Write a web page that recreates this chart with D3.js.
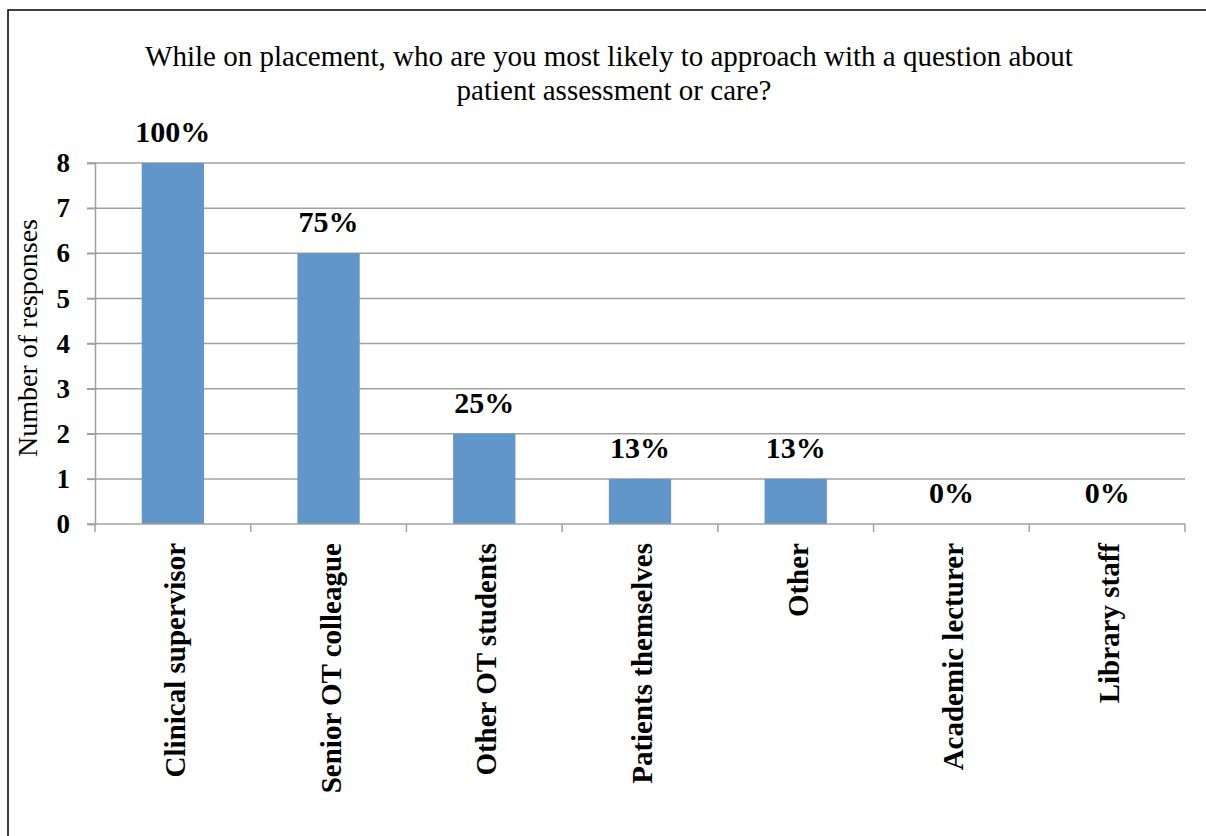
<!DOCTYPE html>
<head>
    <meta charset="utf-8">
    <script src="https://d3js.org/d3.v7.min.js"></script>
    <style>
        body { margin: 0; background: #fff; }
        text { font-family: "Liberation Serif", "Times New Roman", serif; }
    </style>
</head>
<body>
<svg width="1206" height="836"></svg>
<script>

    // data
    var categories = ["Clinical supervisor", "Senior OT colleague", "Other OT students",
        "Patients themselves", "Other", "Academic lecturer", "Library staff"];
    var counts = [8, 6, 2, 1, 1, 0, 0];
    var percentLabels = ["100%", "75%", "25%", "13%", "13%", "0%", "0%"];
    var yTicks = [0, 1, 2, 3, 4, 5, 6, 7, 8];

    var svg = d3.select("svg");

    // outer border (right/bottom run off the picture)
    svg.append("rect")
        .attr("x", 8).attr("y", 10)
        .attr("width", 1210).attr("height", 840)
        .attr("fill", "none")
        .attr("stroke", "#000")
        .attr("stroke-width", 1.5);

    var margin = {top: 163, left: 95, right: 21, bottom: 312},
        width = 1206 - margin.left - margin.right,
        height = 836 - margin.top - margin.bottom;

    var g = svg.append("g").attr("transform", "translate(" + margin.left + "," + margin.top + ")");

    var x = d3.scaleBand()
        .domain(categories)
        .range([0, width])
        .paddingInner(0.6)
        .paddingOuter(0.3);

    var y = d3.scaleLinear()
        .domain([0, 8])
        .range([height, 0]);

    // title
    svg.append("text")
        .attr("x", 609).attr("y", 66)
        .attr("text-anchor", "middle")
        .attr("font-size", 29)
        .text("While on placement, who are you most likely to approach with a question about");
    svg.append("text")
        .attr("x", 614).attr("y", 100)
        .attr("text-anchor", "middle")
        .attr("font-size", 29)
        .text("patient assessment or care?");

    // gridlines
    g.selectAll(".grid")
        .data(yTicks.filter(function(d){ return d > 0; }))
        .enter().append("line")
        .attr("x1", -8).attr("x2", width)
        .attr("y1", function(d){ return y(d); })
        .attr("y2", function(d){ return y(d); })
        .attr("stroke", "#a0a0a0")
        .attr("stroke-width", 1.5);

    // bars
    g.selectAll(".bar")
        .data(counts)
        .enter().append("rect")
        .attr("x", function(d, i){ return x(categories[i]); })
        .attr("y", function(d){ return y(d); })
        .attr("width", x.bandwidth())
        .attr("height", function(d){ return height - y(d); })
        .attr("fill", "#6096c9");

    // y axis
    var yAxis = g.append("g")
        .call(d3.axisLeft(y).tickValues(yTicks).tickSize(8).tickPadding(17).tickFormat(d3.format("d")));
    yAxis.select(".domain").attr("stroke", "#a0a0a0").attr("stroke-width", 1.5);
    yAxis.selectAll(".tick line").attr("stroke", "#a0a0a0").attr("stroke-width", 1.5);
    yAxis.selectAll(".tick text")
        .attr("font-family", "Liberation Serif")
        .attr("font-size", 27)
        .attr("font-weight", "bold")
        .attr("fill", "#000");

    // x axis with ticks between categories
    var step = x.step();
    var xLine = g.append("g").attr("transform", "translate(0," + height + ")");
    xLine.append("line")
        .attr("x1", -8).attr("x2", width)
        .attr("stroke", "#a0a0a0").attr("stroke-width", 1.5);
    xLine.selectAll(".xtick")
        .data(d3.range(categories.length + 1))
        .enter().append("line")
        .attr("x1", function(d){ return d * step; })
        .attr("x2", function(d){ return d * step; })
        .attr("y1", 0).attr("y2", 8)
        .attr("stroke", "#a0a0a0").attr("stroke-width", 1.5);

    // category labels
    g.selectAll(".cat")
        .data(categories)
        .enter().append("text")
        .attr("transform", function(d){
            return "translate(" + (x(d) + x.bandwidth() / 2 + 12) + "," + (height + 19) + ") rotate(-90)";
        })
        .attr("text-anchor", "end")
        .attr("font-size", 29)
        .attr("font-weight", "bold")
        .text(function(d){ return d; });

    // value labels
    g.selectAll(".val")
        .data(counts)
        .enter().append("text")
        .attr("x", function(d, i){ return x(categories[i]) + x.bandwidth() / 2; })
        .attr("y", function(d){ return y(d) - 21; })
        .attr("text-anchor", "middle")
        .attr("font-size", 30)
        .attr("font-weight", "bold")
        .text(function(d, i){ return percentLabels[i]; });

    // y axis title
    svg.append("text")
        .attr("transform", "translate(37,338) rotate(-90)")
        .attr("text-anchor", "middle")
        .attr("font-size", 28)
        .text("Number of responses");

</script>
</body>
